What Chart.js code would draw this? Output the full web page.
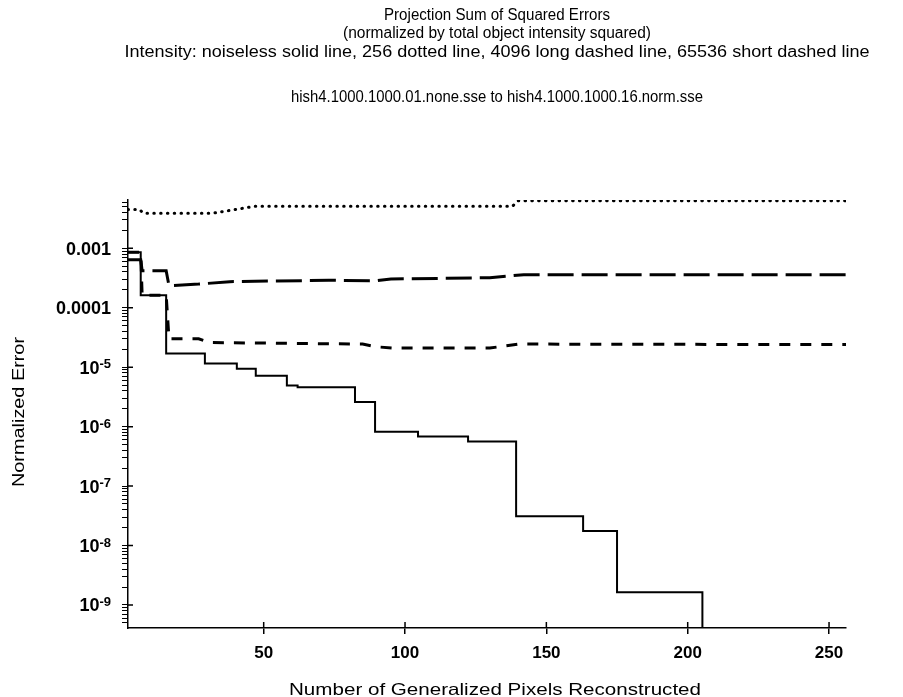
<!DOCTYPE html>
<html>
<head>
<meta charset="utf-8">
<title>Projection Sum of Squared Errors</title>
<script src="https://cdn.jsdelivr.net/npm/chart.js@4.4.1/dist/chart.umd.min.js"></script>
<style>
  html, body { margin: 0; padding: 0; background: #fff; }
  #wrap { width: 903px; height: 697px; }
</style>
</head>
<body>
<div id="wrap"><canvas id="sseChart" width="903" height="697"></canvas></div>
<script>
const titleLines = [
    "Projection Sum of Squared Errors",
    "(normalized by total object intensity squared)",
    "Intensity: noiseless solid line, 256 dotted line, 4096 long dashed line, 65536 short dashed line",
    "hish4.1000.1000.01.none.sse to hish4.1000.1000.16.norm.sse"
];
const xTitle = "Number of Generalized Pixels Reconstructed";
const yTitle = "Normalized Error";
const xTicks = [50, 100, 150, 200, 250];
const yTickValues = [1e-3, 1e-4, 1e-5, 1e-6, 1e-7, 1e-8, 1e-9];
// [base, superscript]
const yTickLabels = [["0.001", ""], ["0.0001", ""], ["10", "-5"], ["10", "-6"], ["10", "-7"], ["10", "-8"], ["10", "-9"]];

// noiseless (solid, stepped)
const solidX = [2, 6.5, 15.5, 29.2, 40.5, 47.2, 58.2, 62, 82.3, 89.4, 104.6, 122.3, 139.3, 163, 175, 205.2, 256];
const solidY = [8.6e-4, 1.63e-4, 1.7e-5, 1.15e-5, 9.4e-6, 7.15e-6, 4.9e-6, 4.6e-6, 2.6e-6, 8.2e-7, 6.8e-7, 5.6e-7, 3.1e-8, 1.76e-8, 1.63e-9, 1e-10, 1e-10];
// 256 (dotted)
const dottedX = [2, 6, 7.5, 32, 47, 138, 140, 256];
const dottedY = [4.5e-3, 4.5e-3, 3.9e-3, 3.9e-3, 5.1e-3, 5.1e-3, 6.3e-3, 6.3e-3];
// 4096 (long dashed)
const longX = [2, 6.5, 7, 15.5, 16.5, 27, 38, 73, 90, 95, 130, 142, 256];
const longY = [6.4e-4, 6.4e-4, 4.2e-4, 4.2e-4, 2.35e-4, 2.5e-4, 2.75e-4, 2.9e-4, 2.85e-4, 3.05e-4, 3.2e-4, 3.6e-4, 3.6e-4];
// 65536 (short dashed)
const shortX = [2, 6.5, 7, 15.5, 16.5, 27, 31, 85, 90, 96, 130, 140, 256];
const shortY = [8.6e-4, 8.6e-4, 1.63e-4, 1.63e-4, 3.0e-5, 3.0e-5, 2.6e-5, 2.45e-5, 2.2e-5, 2.1e-5, 2.1e-5, 2.45e-5, 2.4e-5];

const FONT = '"Liberation Sans", Arial, sans-serif';

function toPoints(xs, ys) {
    return xs.map((x, i) => ({ x: x, y: ys[i] }));
}

// the scanned lettering is a bit wide, so stretch each text line to its width
function wideText(ctx, text, x, y, size, width, angle) {
    ctx.save();
    ctx.font = size + "px " + FONT;
    const sx = width / ctx.measureText(text).width;
    ctx.translate(x, y);
    if (angle) ctx.rotate(angle);
    ctx.scale(sx, 1);
    ctx.textAlign = "center";
    ctx.textBaseline = "middle";
    ctx.fillText(text, 0, 0);
    ctx.restore();
}

const textLayer = {
    id: "textLayer",
    afterDraw(chart) {
        const ctx = chart.ctx;
        ctx.save();
        ctx.fillStyle = "#000";
        const ys = [16, 34, 53, 98];
        const widths = [226, 308, 745, 412];
        titleLines.forEach((t, i) => wideText(ctx, t, 497, ys[i], 16, widths[i]));
        wideText(ctx, xTitle, 495, 690, 16.5, 412);
        wideText(ctx, yTitle, 19, 412, 16.5, 150, -Math.PI / 2);

        // y tick labels with raised exponents
        const yScale = chart.scales.y;
        const right = chart.chartArea.left - 17;
        ctx.textAlign = "right";
        ctx.textBaseline = "alphabetic";
        yTickValues.forEach((v, i) => {
            const py = yScale.getPixelForValue(v);
            const [base, sup] = yTickLabels[i];
            let r = right;
            if (sup) {
                ctx.font = "bold 13px " + FONT;
                ctx.fillText(sup, r, py + 1);
                r -= ctx.measureText(sup).width;
            }
            ctx.font = "bold 18px " + FONT;
            ctx.fillText(base, r, py + 6.5);
        });
        ctx.restore();
    }
};

// short inner tick marks (crosses on x, inner dashes on y)
const innerTicks = {
    id: "innerTicks",
    afterDraw(chart) {
        const ctx = chart.ctx;
        const xs = chart.scales.x, ys = chart.scales.y;
        const area = chart.chartArea;
        ctx.save();
        ctx.strokeStyle = "#000";
        ctx.lineWidth = 1.5;
        ctx.beginPath();
        xTicks.forEach(v => {
            const px = xs.getPixelForValue(v);
            ctx.moveTo(px, area.bottom);
            ctx.lineTo(px, area.bottom - 6);
        });
        yTickValues.forEach(v => {
            const py = ys.getPixelForValue(v);
            ctx.moveTo(area.left, py);
            ctx.lineTo(area.left + 5, py);
        });
        ctx.stroke();
        ctx.restore();
    }
};

const ctx = document.getElementById("sseChart").getContext("2d");
new Chart(ctx, {
    type: "line",
    data: {
        datasets: [
            { label: "noiseless", data: toPoints(solidX, solidY), stepped: true, borderColor: "#000", borderWidth: 2 },
            { label: "256", data: toPoints(dottedX, dottedY), borderColor: "#000", borderWidth: 3, borderDash: [0.5, 6.3], borderCapStyle: "round" },
            { label: "4096", data: toPoints(longX, longY), borderColor: "#000", borderWidth: 3, borderDash: [26, 8] },
            { label: "65536", data: toPoints(shortX, shortY), borderColor: "#000", borderWidth: 3, borderDash: [11, 10] }
        ]
    },
    options: {
        responsive: false,
        animation: false,
        devicePixelRatio: 1,
        elements: { point: { radius: 0 }, line: { tension: 0, fill: false } },
        layout: { padding: { left: 4, right: 57, top: 200, bottom: 0 } },
        plugins: { legend: { display: false }, tooltip: { enabled: false } },
        scales: {
            x: {
                type: "linear",
                min: 2,
                max: 256,
                afterBuildTicks(scale) { scale.ticks = xTicks.map(v => ({ value: v })); },
                afterFit(scale) { scale.height = 69; },
                ticks: { autoSkip: false, maxRotation: 0, color: "#000", padding: 9, font: { family: FONT, size: 17, weight: "bold" } },
                grid: { drawOnChartArea: false, tickLength: 6, color: "#000", lineWidth: 1.5 },
                border: { color: "#000", width: 1.5 }
            },
            y: {
                type: "logarithmic",
                min: 4.1e-10,
                max: 6.5e-3,
                afterBuildTicks(scale) {
                    const t = [];
                    for (let e = -10; e <= -3; e++) {
                        for (let m = 1; m <= 9; m++) {
                            const v = m * Math.pow(10, e);
                            if (v >= scale.min && v <= scale.max) t.push({ value: v });
                        }
                    }
                    scale.ticks = t;
                },
                afterFit(scale) { scale.width = 124; },
                ticks: { autoSkip: false, callback: () => "" },
                grid: { drawOnChartArea: false, tickLength: 6, color: "#000", lineWidth: 1 },
                border: { color: "#000", width: 1.5 }
            }
        }
    },
    plugins: [textLayer, innerTicks]
});
</script>
</body>
</html>
